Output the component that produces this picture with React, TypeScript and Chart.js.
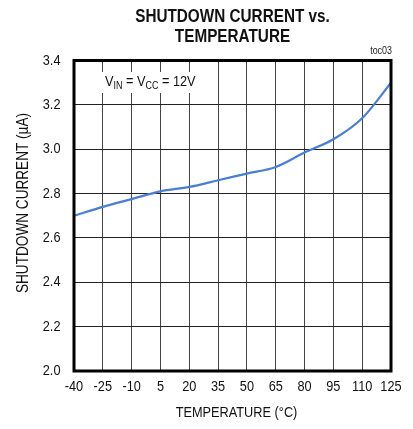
import React, { useEffect, useRef } from "react";
import { Chart, registerables } from "chart.js";

Chart.register(...registerables);

const temperatures = [-40, -25, -10, 5, 20, 35, 50, 65, 80, 95, 110, 125];
const shutdownCurrent = [2.70, 2.74, 2.775, 2.81, 2.83, 2.86, 2.89, 2.92, 2.985, 3.045, 3.14, 3.30];
const xTicks = [-40, -25, -10, 5, 20, 35, 50, 65, 80, 95, 110, 125];
const yTicks = [2.0, 2.2, 2.4, 2.6, 2.8, 3.0, 3.2, 3.4];
const xTickLabels = ["-40", "-25", "-10", "5", "20", "35", "50", "65", "80", "95", "110", "125"];
const yTickLabels = ["2.0", "2.2", "2.4", "2.6", "2.8", "3.0", "3.2", "3.4"];

const FONT = "'Liberation Sans', Arial, sans-serif";
const NARROW = 0.85;

function narrowText(ctx: any, text: string, x: number, y: number, font: string, align: string, rotate = 0) {
  ctx.save();
  ctx.font = font;
  ctx.textAlign = align;
  ctx.translate(x, y);
  if (rotate) ctx.rotate(rotate);
  ctx.scale(NARROW, 1);
  ctx.fillText(text, 0, 0);
  ctx.restore();
}

const textPlugin = {
  id: "textPlugin",
  beforeDatasetsDraw(chart: any) {
    const ctx = chart.ctx;
    ctx.save();
    ctx.fillStyle = "#fff";
    ctx.fillRect(100, 72, 100, 21);
    ctx.fillStyle = "#111";
    ctx.textBaseline = "alphabetic";
    let x = 105;
    const y = 86;
    const parts: [string, boolean][] = [["V", false], ["IN", true], [" = V", false], ["CC", true], [" = 12V", false]];
    for (const [t, sub] of parts) {
      const font = sub ? `10.5px ${FONT}` : `15px ${FONT}`;
      narrowText(ctx, t, x, sub ? y + 3 : y, font, "left");
      ctx.font = font;
      x += ctx.measureText(t).width * NARROW;
    }
    ctx.restore();
  },
  afterDraw(chart: any) {
    const ctx = chart.ctx;
    const a = chart.chartArea;
    const xs = chart.scales.x;
    const ys = chart.scales.y;
    ctx.save();
    // frame
    ctx.strokeStyle = "#000";
    ctx.lineWidth = 3;
    ctx.strokeRect(a.left, a.top, a.right - a.left, a.bottom - a.top);

    ctx.fillStyle = "#111";
    ctx.textBaseline = "middle";
    const cx = (a.left + a.right) / 2;
    // title
    narrowText(ctx, "SHUTDOWN CURRENT vs.", cx, 17, `bold 18px ${FONT}`, "center");
    narrowText(ctx, "TEMPERATURE", cx, 37.5, `bold 18px ${FONT}`, "center");

    // toc03
    ctx.fillStyle = "#222";
    narrowText(ctx, "toc03", a.right + 1, 51, `10.5px ${FONT}`, "right");

    // tick labels
    ctx.fillStyle = "#111";
    xTicks.forEach((v, i) => {
      narrowText(ctx, xTickLabels[i], xs.getPixelForValue(v), 386.5, `15px ${FONT}`, "center");
    });
    yTicks.forEach((v, i) => {
      narrowText(ctx, yTickLabels[i], 60.5, ys.getPixelForValue(v), `15px ${FONT}`, "right");
    });

    // axis titles
    narrowText(ctx, "TEMPERATURE (°C)", cx + 4, 413, `15px ${FONT}`, "center");
    narrowText(ctx, "SHUTDOWN CURRENT (µA)", 24, 203, `16px ${FONT}`, "center", -Math.PI / 2);
    ctx.restore();
  },
};

export default function App() {
  const ref = useRef<HTMLCanvasElement>(null);
  useEffect(() => {
    if (!ref.current) return;
    const chart = new Chart(ref.current, {
      type: "line",
      data: {
        datasets: [
          {
            data: temperatures.map((t, i) => ({ x: t, y: shutdownCurrent[i] })),
            borderColor: "#4a7fcf",
            borderWidth: 2.2,
            pointRadius: 0,
            tension: 0.4,
            cubicInterpolationMode: "monotone",
            fill: false,
          },
        ],
      },
      options: {
        animation: false,
        responsive: false,
        layout: { padding: { left: 0, right: 22, top: 60.5, bottom: 0 } },
        plugins: { legend: { display: false }, tooltip: { enabled: false }, title: { display: false } },
        scales: {
          x: {
            type: "linear",
            min: -40,
            max: 125,
            afterBuildTicks: (s: any) => { s.ticks = xTicks.map((v) => ({ value: v })); },
            afterFit: (s: any) => { s.height = 58; },
            ticks: { display: false },
            grid: { color: "#444", lineWidth: 1, drawTicks: false },
            border: { display: false },
          },
          y: {
            min: 2.0,
            max: 3.4,
            afterBuildTicks: (s: any) => { s.ticks = yTicks.map((v) => ({ value: v })); },
            afterFit: (s: any) => { s.width = 74; },
            ticks: { display: false },
            grid: { color: "#222", lineWidth: 1, drawTicks: false },
            border: { display: false },
          },
        },
      },
      plugins: [textPlugin],
    });
    return () => chart.destroy();
  }, []);
  return (
    <div style={{ position: "fixed", left: 0, top: 0 }}>
      <canvas ref={ref} width={413} height={429} style={{ display: "block", width: 413, height: 429 }} />
    </div>
  );
}
